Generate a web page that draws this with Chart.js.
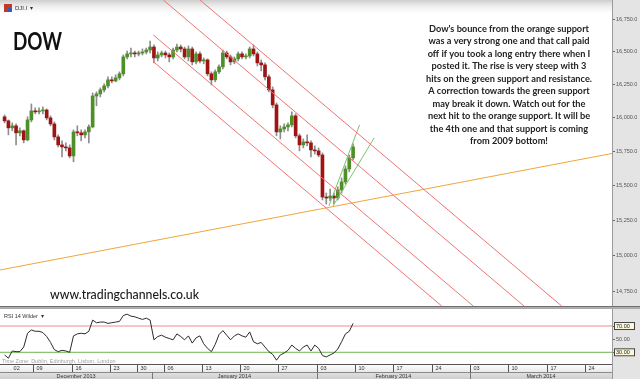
<!DOCTYPE html>
<html>
<head>
<meta charset="utf-8">
<title>DOW</title>
<script src="https://cdn.jsdelivr.net/npm/chart.js@4.4.1/dist/chart.umd.min.js"></script>
<style>
  html, body { margin: 0; padding: 0; background: #fff; }
  #wrap { position: relative; width: 640px; height: 379px; overflow: hidden; }
  #mainChart { position: absolute; left: 0; top: 0; }
  #rsiChart { position: absolute; left: 0; top: 309px; }
</style>
</head>
<body>
<div id="wrap">
  <canvas id="mainChart" width="640" height="309"></canvas>
  <canvas id="rsiChart" width="640" height="70"></canvas>
</div>
<script>
// ─── Data (x = trading days since Mon 2 Dec 2013, two bars per day) ───────────
const barX = [
  1.25, 1.75, 2.25, 2.75, 3.25, 3.75, 4.25, 4.75, 5.25, 5.75,
  6.25, 6.75, 7.25, 7.75, 8.25, 8.75, 9.25, 9.75, 10.25, 10.75,
  11.25, 11.75, 12.25, 12.75, 13.25, 13.75, 14.25, 14.75, 15.25, 15.75,
  16.25, 16.75, 17.25, 17.75, 18.25, 18.75, 19.25, 19.75, 20.25, 20.75,
  21.25, 21.75, 22.25, 22.75, 23.25, 23.75, 24.25, 24.75, 25.25, 25.75,
  26.25, 26.75, 27.25, 27.75, 28.25, 28.75, 29.25, 29.75, 30.25, 30.75,
  31.25, 31.75, 32.25, 32.75, 33.25, 33.75, 34.25, 34.75, 35.25, 35.75,
  36.25, 36.75, 37.25, 37.75, 38.25, 38.75, 39.25, 39.75, 40.25, 40.75,
  41.25, 41.75, 42.25, 42.75, 43.25, 43.75, 44.25, 44.75, 45.25, 45.75,
  46.25, 46.75
];
const opens = [
  16004, 15974, 15922, 15937, 15885, 15900, 15833, 15981, 16048, 16041,
  16048, 16055, 15996, 15951, 15855, 15796, 15781, 15774, 15715, 15892,
  15885, 15870, 15892, 15929, 16160, 16176, 16206, 16236, 16282, 16274,
  16297, 16328, 16457, 16480, 16487, 16480, 16487, 16495, 16510, 16533,
  16449, 16472, 16487, 16472, 16457, 16510, 16533, 16518, 16457, 16518,
  16419, 16480, 16426, 16434, 16328, 16282, 16343, 16381, 16487, 16457,
  16419, 16442, 16480, 16457, 16464, 16518, 16480, 16411, 16396, 16305,
  16206, 16093, 15892, 15914, 15929, 15944, 16011, 15863, 15796, 15818,
  15811, 15759, 15752, 15722, 15417, 15410, 15424, 15410, 15468, 15526,
  15620, 15701
];
const highs = [
  16018, 15981, 15959, 15951, 15922, 15907, 16004, 16100, 16071, 16071,
  16078, 16063, 16011, 15966, 15870, 15826, 15811, 15796, 15907, 15937,
  15907, 15907, 15944, 16183, 16191, 16221, 16252, 16305, 16305, 16320,
  16343, 16472, 16502, 16525, 16502, 16502, 16518, 16525, 16579, 16549,
  16495, 16502, 16502, 16487, 16525, 16556, 16549, 16533, 16541, 16533,
  16495, 16495, 16449, 16442, 16343, 16358, 16396, 16510, 16502, 16472,
  16457, 16495, 16495, 16480, 16533, 16549, 16495, 16434, 16411, 16320,
  16229, 16108, 15937, 15951, 15959, 16041, 16026, 15877, 15840, 15870,
  15826, 15789, 15774, 15737, 15446, 15475, 15446, 15490, 15555, 15642,
  15722, 15803
];
const lows = [
  15959, 15870, 15900, 15796, 15863, 15811, 15826, 15966, 16026, 16026,
  16026, 15981, 15937, 15833, 15781, 15708, 15752, 15701, 15672, 15863,
  15826, 15848, 15811, 15922, 16086, 16153, 16191, 16221, 16259, 16267,
  16282, 16312, 16442, 16457, 16457, 16464, 16472, 16480, 16487, 16411,
  16426, 16457, 16449, 16419, 16442, 16495, 16495, 16442, 16426, 16396,
  16404, 16411, 16404, 16312, 16244, 16267, 16328, 16366, 16442, 16396,
  16404, 16426, 16442, 16442, 16449, 16464, 16388, 16350, 16282, 16191,
  16071, 15863, 15840, 15892, 15900, 15929, 15848, 15752, 15774, 15789,
  15708, 15730, 15708, 15396, 15367, 15389, 15367, 15396, 15446, 15511,
  15599, 15686
];
const closes = [
  15974, 15922, 15937, 15885, 15900, 15833, 15981, 16048, 16041, 16048,
  16055, 15996, 15951, 15855, 15796, 15781, 15774, 15715, 15892, 15885,
  15870, 15892, 15929, 16160, 16176, 16206, 16236, 16282, 16274, 16297,
  16328, 16457, 16480, 16487, 16480, 16487, 16495, 16510, 16533, 16449,
  16472, 16487, 16472, 16457, 16510, 16533, 16518, 16457, 16518, 16419,
  16480, 16426, 16434, 16328, 16282, 16343, 16381, 16487, 16457, 16419,
  16442, 16480, 16457, 16464, 16518, 16480, 16411, 16396, 16305, 16206,
  16093, 15892, 15914, 15929, 15944, 16011, 15863, 15796, 15818, 15811,
  15759, 15752, 15722, 15417, 15410, 15424, 15410, 15468, 15526, 15620,
  15701, 15781
];
const rsiValues = [
  26, 21, 32, 31, 31, 38, 59, 64, 62, 62,
  60, 54, 45, 34, 31, 33, 32, 30, 55, 58,
  59, 58, 62, 79, 75, 76, 76, 74, 75, 76,
  77, 86, 88, 85, 84, 82, 80, 82, 79, 49,
  54, 56, 53, 51, 49, 58, 54, 49, 55, 44,
  52, 55, 43, 36, 31, 42, 57, 63, 56, 49,
  55, 58, 55, 53, 61, 46, 43, 45, 38, 31,
  27, 18, 26, 29, 33, 41, 36, 32, 38, 41,
  32, 41, 36, 25, 23, 26, 29, 35, 46, 58,
  62, 74
];

const priceTicks = [14750, 15000, 15250, 15500, 15750, 16000, 16250, 16500, 16750];
const rsiTicks = [30, 50, 70];
const rsiBands = [70, 30];

const dayTickX = [0, 5, 10, 15, 18.5, 22, 27, 32, 37, 42, 47, 52, 57, 62, 67, 72, 77];
const dayTickLabels = ['02', '09', '16', '23', '30', '06', '13', '20', '27', '03', '10', '17', '24', '03', '10', '17', '24'];
const monthEdges = [20.5, 42, 62];
const monthLabels = ['December 2013', 'January 2014', 'February 2014', 'March 2014'];

// Trend lines drawn on the chart: [[x, price], [x, price]]
const redChannel = [
  [[20.67, 16421], [58.32, 14654]],
  [[20.67, 16626], [62.44, 14654]],
  [[21.97, 16899], [69.06, 14654]],
  [[26.76, 16899], [73.98, 14654]]
];
const orangeSupport = [[0.653, 14902], [80.55, 15733]];
const greenLines = [
  [[43.60, 15353], [47.59, 15943]],
  [[44.13, 15353], [49.52, 15849]]
];

const noteLines = [
  "Dow's bounce from the orange support",
  'was a very strong one and that call paid',
  'off if you took a long entry there when I',
  'posted it. The rise is very steep with 3',
  'hits on the green support and resistance.',
  'A correction towards the green support',
  'may break it down. Watch out for the',
  'next hit to the orange support. It will be',
  'the 4th one and that support is coming',
  'from 2009 bottom!'
];

// ─── Shared look ──────────────────────────────────────────────────────────────
const X_MIN = 0.653;
const X_MAX = 80.55;
const AXIS_W = 28;
const UP = '#4f8f2a';
const DOWN = '#9e1414';
const AXIS_BG = '#e4e4e4';

Chart.defaults.font.family = '"Liberation Sans", Arial, sans-serif';
Chart.defaults.animation = false;

const segment = (pts) => pts.map(([x, y]) => ({ x, y }));
const lineSet = (pts, color) => ({
  type: 'line', data: segment(pts), borderColor: color, borderWidth: 1,
  pointRadius: 0, fill: false, order: 1
});

const axisFit = (s) => { s.width = AXIS_W; s.paddingTop = 0; s.paddingBottom = 0; };

// text squeezed horizontally to the width it has in the screenshot
function squeezed(ctx, text, x, y, sx) {
  ctx.save();
  ctx.translate(x, y);
  ctx.scale(sx, 1);
  ctx.fillText(text, 0, 0);
  ctx.restore();
}

// ─── Main chart decorations ───────────────────────────────────────────────────
const mainDecor = {
  id: 'mainDecor',
  beforeDraw(chart) {
    const { ctx, chartArea: a } = chart;
    ctx.save();
    ctx.fillStyle = AXIS_BG;
    ctx.fillRect(a.right, 0, chart.width - a.right, a.bottom);
    ctx.restore();
  },
  beforeDatasetsDraw(chart) {
    const { ctx, chartArea: a } = chart;
    ctx.save();
    const g = ctx.createLinearGradient(0, 0, 0, 16);
    g.addColorStop(0, 'rgba(205,205,205,1)');
    g.addColorStop(1, 'rgba(255,255,255,0)');
    ctx.fillStyle = g;
    ctx.fillRect(a.left, 0, a.right - a.left, 16);
    ctx.restore();
  },
  afterDraw(chart) {
    const { ctx, chartArea: a } = chart;
    ctx.save();
    // symbol header
    ctx.fillStyle = '#c0392b';
    ctx.fillRect(4, 4, 8, 8);
    ctx.fillStyle = '#2f5fb3';
    ctx.fillRect(8, 8, 4, 4);
    ctx.fillStyle = '#333';
    ctx.font = '6px "Liberation Sans"';
    ctx.textBaseline = 'middle';
    ctx.fillText('DJI.I', 15, 8);
    ctx.fillText('▾', 30, 8);

    // big title
    ctx.fillStyle = '#111';
    ctx.font = 'bold 24px Lato';
    ctx.textBaseline = 'alphabetic';
    squeezed(ctx, 'DOW', 13, 50, 49 / ctx.measureText('DOW').width);

    // comment block, centred on x = 509
    ctx.font = 'bold 10px Lato';
    ctx.fillStyle = '#222';
    ctx.textBaseline = 'middle';
    const sx = 161 / ctx.measureText(noteLines[1]).width;
    noteLines.forEach((t, i) => {
      const w = ctx.measureText(t).width * sx;
      squeezed(ctx, t, 509 - w / 2, 28.5 + i * 12.48, sx);
    });

    // site
    ctx.font = '500 14px Lato';
    ctx.fillStyle = '#1a1a1a';
    const site = 'www.tradingchannels.co.uk';
    squeezed(ctx, site, 50, 294, 149 / ctx.measureText(site).width);

    // separator between panels
    ctx.fillStyle = '#6f6f6f';
    ctx.fillRect(0, a.bottom, chart.width, 1.5);
    ctx.fillStyle = '#a9a9a9';
    ctx.fillRect(0, a.bottom + 1.5, chart.width, 1.5);
    ctx.restore();
  }
};

new Chart(document.getElementById('mainChart'), {
  type: 'bar',
  data: {
    datasets: [
      ...redChannel.map(p => lineSet(p, '#f07373')),
      lineSet(orangeSupport, '#efa63a'),
      ...greenLines.map(p => lineSet(p, '#78c66a')),
      {
        type: 'bar',
        data: barX.map((x, i) => ({ x, y: [opens[i], closes[i]] })),
        backgroundColor: barX.map((x, i) => closes[i] >= opens[i] ? UP : DOWN),
        barThickness: 3, grouped: false, minBarLength: 1, order: 2
      },
      {
        type: 'bar',
        data: barX.map((x, i) => ({ x, y: [lows[i], highs[i]] })),
        backgroundColor: '#8d8d8d',
        barThickness: 1, grouped: false, order: 3
      }
    ]
  },
  options: {
    responsive: false,
    layout: { padding: { top: 0, left: 0, right: 0, bottom: 3 } },
    plugins: { legend: { display: false }, tooltip: { enabled: false } },
    scales: {
      x: { type: 'linear', min: X_MIN, max: X_MAX, offset: false, display: false },
      y: {
        type: 'logarithmic', position: 'right', min: 14654, max: 16899,
        afterBuildTicks: s => { s.ticks = priceTicks.map(v => ({ value: v })); },
        afterFit: axisFit,
        ticks: {
          callback: v => v.toLocaleString('en-US', { minimumFractionDigits: 1 }),
          font: { size: 5.5 }, color: '#555', padding: 1
        },
        grid: { drawOnChartArea: false, tickLength: 3, color: '#666' },
        border: { color: '#9a9a9a' }
      }
    }
  },
  plugins: [mainDecor]
});

// ─── RSI panel + time axis ────────────────────────────────────────────────────
const rsiDecor = {
  id: 'rsiDecor',
  beforeDraw(chart) {
    const { ctx, chartArea: a } = chart;
    ctx.save();
    ctx.fillStyle = AXIS_BG;
    ctx.fillRect(a.right, 0, chart.width - a.right, chart.height);
    ctx.restore();
  },
  afterDraw(chart) {
    const { ctx, chartArea: a } = chart;
    const xs = chart.scales.x;
    const ys = chart.scales.y;
    ctx.save();
    ctx.font = '5.5px "Liberation Sans"';
    ctx.textBaseline = 'middle';

    ctx.fillStyle = '#333';
    ctx.fillText('RSI 14 Wilder  ▾', 4, 7);
    ctx.fillStyle = '#a0a0a0';
    ctx.fillText('Time Zone: Dublin, Edinburgh, Lisbon, London', 2, 52);

    // boxed band values on the axis
    rsiBands.forEach(v => {
      const py = ys.getPixelForValue(v);
      ctx.fillStyle = '#fbf8dc';
      ctx.fillRect(a.right + 2, py - 4, 21, 8);
      ctx.strokeStyle = '#444';
      ctx.lineWidth = 1;
      ctx.strokeRect(a.right + 2.5, py - 3.5, 20, 7);
      ctx.fillStyle = '#222';
      ctx.fillText(v.toFixed(2), a.right + 4, py);
    });

    // day row
    const rowTop = a.bottom;
    const g1 = ctx.createLinearGradient(0, rowTop, 0, rowTop + 8);
    g1.addColorStop(0, '#ffffff');
    g1.addColorStop(1, '#e9e9e9');
    ctx.fillStyle = g1;
    ctx.fillRect(a.left, rowTop, a.right - a.left, 8);
    ctx.fillStyle = '#555';
    ctx.fillRect(a.left, rowTop, a.right - a.left, 1);

    dayTickX.forEach((v, i) => {
      const px = Math.round(xs.getPixelForValue(v)) + 0.5;
      ctx.fillStyle = '#555';
      if (px > a.left) ctx.fillRect(px - 0.5, rowTop, 1, 8);
      ctx.fillStyle = '#333';
      let lx = px + 3;
      if (px < a.left) {
        const next = xs.getPixelForValue(dayTickX[i + 1]);
        lx = (a.left + next) / 2 - ctx.measureText(dayTickLabels[i]).width / 2;
      }
      ctx.fillText(dayTickLabels[i], lx, rowTop + 4.5);
    });

    // month row
    const mTop = rowTop + 8;
    const g2 = ctx.createLinearGradient(0, mTop, 0, chart.height);
    g2.addColorStop(0, '#e2e2e2');
    g2.addColorStop(1, '#cfcfcf');
    ctx.fillStyle = g2;
    ctx.fillRect(a.left, mTop, a.right - a.left, chart.height - mTop);
    ctx.fillStyle = '#8a8a8a';
    ctx.fillRect(a.left, mTop, a.right - a.left, 1);
    const edges = [X_MIN, ...monthEdges, X_MAX];
    ctx.textAlign = 'center';
    monthLabels.forEach((m, i) => {
      const l = xs.getPixelForValue(edges[i]);
      const r = xs.getPixelForValue(edges[i + 1]);
      if (i > 0) { ctx.fillStyle = '#777'; ctx.fillRect(Math.round(l), mTop, 1, chart.height - mTop); }
      ctx.fillStyle = '#333';
      ctx.fillText(m, (l + r) / 2, mTop + 4);
    });

    // axis border through the lower rows
    ctx.fillStyle = '#9a9a9a';
    ctx.fillRect(a.right, 0, 1, chart.height);
    ctx.restore();
  }
};

new Chart(document.getElementById('rsiChart'), {
  type: 'line',
  data: {
    datasets: [
      lineSet([[X_MIN, 70], [X_MAX, 70]], '#f28a8a'),
      lineSet([[X_MIN, 30], [X_MAX, 30]], '#6fb552'),
      {
        data: barX.map((x, i) => ({ x, y: rsiValues[i] })),
        borderColor: '#2b2b2b', borderWidth: 1, pointRadius: 0, tension: 0, order: 0
      }
    ]
  },
  options: {
    responsive: false,
    layout: { padding: { top: 0, left: 0, right: 0, bottom: 15 } },
    plugins: { legend: { display: false }, tooltip: { enabled: false } },
    scales: {
      x: { type: 'linear', min: X_MIN, max: X_MAX, display: false },
      y: {
        position: 'right', min: 12.2, max: 95.9,
        afterBuildTicks: s => { s.ticks = rsiTicks.map(v => ({ value: v })); },
        afterFit: axisFit,
        ticks: {
          callback: v => v === 50 ? v.toFixed(2) : '',
          font: { size: 5.5 }, color: '#555', padding: 1
        },
        grid: { drawOnChartArea: false, tickLength: 3, color: '#666' },
        border: { color: '#9a9a9a' }
      }
    }
  },
  plugins: [rsiDecor]
});
</script>
</body>
</html>
